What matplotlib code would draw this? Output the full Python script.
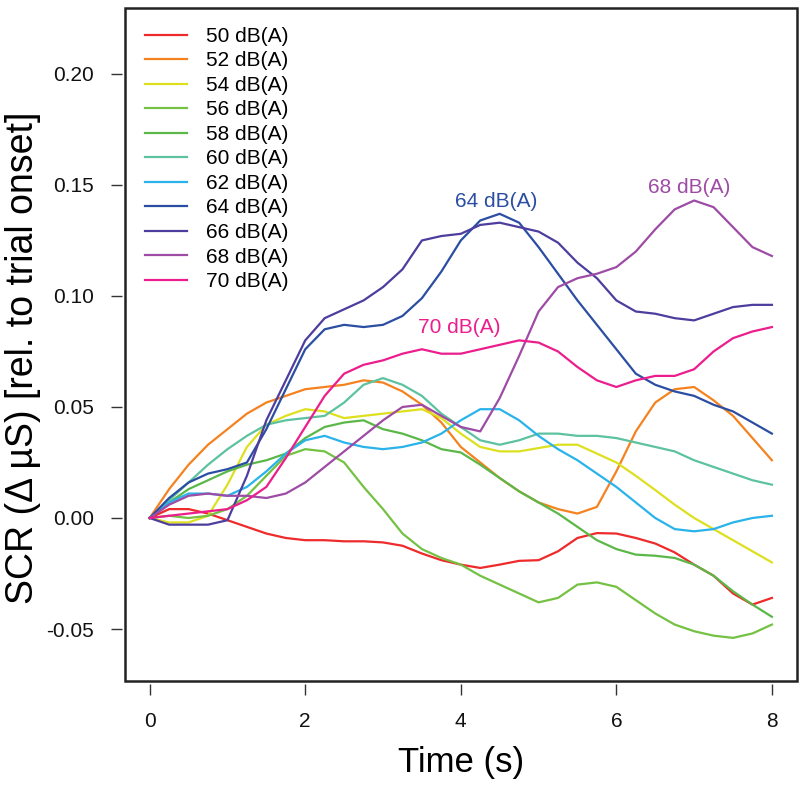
import matplotlib

matplotlib.use("Agg")

import matplotlib.pyplot as plt
from matplotlib.patches import Rectangle
import numpy as np

plt.rcParams["font.family"] = ["Liberation Sans", "DejaVu Sans"]

# time grid (s), 0.25 s steps
TIME = np.linspace(0, 8, 33)

LEVELS = ["50 dB(A)", "52 dB(A)", "54 dB(A)", "56 dB(A)", "58 dB(A)", "60 dB(A)",
          "62 dB(A)", "64 dB(A)", "66 dB(A)", "68 dB(A)", "70 dB(A)"]
COLORS = ["#EE2A2A", "#F5821F", "#DDE01E", "#74C143", "#5BB848", "#5CC2A0",
          "#29B3EA", "#2B4EA2", "#4E3D9E", "#9E4BA5", "#EC1D8C"]

scr_50 = [0, 0.004, 0.004, 0.002, -0.001, -0.004, -0.007, -0.009, -0.010, -0.010, -0.0105,
          -0.0105, -0.011, -0.0125, -0.016, -0.019, -0.021, -0.0225, -0.021, -0.0193, -0.019,
          -0.015, -0.009, -0.0068, -0.007, -0.009, -0.0115, -0.0155, -0.021, -0.026, -0.034,
          -0.039, -0.036]
scr_52 = [0, 0.013, 0.024, 0.033, 0.040, 0.047, 0.052, 0.055, 0.058, 0.059, 0.060,
          0.062, 0.061, 0.057, 0.051, 0.043, 0.032, 0.025, 0.018, 0.012, 0.007,
          0.004, 0.002, 0.005, 0.021, 0.039, 0.052, 0.058, 0.059, 0.053, 0.046,
          0.036, 0.026]
scr_54 = [0, -0.002, -0.002, 0.001, 0.015, 0.032, 0.042, 0.046, 0.049, 0.048, 0.045,
          0.046, 0.047, 0.048, 0.049, 0.045, 0.038, 0.032, 0.030, 0.030, 0.0315,
          0.033, 0.033, 0.029, 0.025, 0.019, 0.0126, 0.006, 0.000, -0.005, -0.010,
          -0.015, -0.020]
scr_56 = [0, 0.001, 0.000, 0.001, 0.004, 0.010, 0.019, 0.028, 0.031, 0.030, 0.025,
          0.014, 0.004, -0.007, -0.014, -0.018, -0.021, -0.026, -0.030, -0.034, -0.038,
          -0.036, -0.030, -0.029, -0.031, -0.037, -0.043, -0.048, -0.051, -0.053, -0.054,
          -0.052, -0.048]
scr_58 = [0, 0.007, 0.013, 0.017, 0.021, 0.024, 0.026, 0.029, 0.036, 0.041, 0.043,
          0.044, 0.040, 0.038, 0.035, 0.031, 0.0295, 0.024, 0.018, 0.012, 0.007,
          0.002, -0.004, -0.010, -0.014, -0.0165, -0.017, -0.018, -0.021, -0.026, -0.033,
          -0.039, -0.0445]
scr_60 = [0, 0.008, 0.016, 0.024, 0.031, 0.037, 0.042, 0.044, 0.045, 0.046, 0.052,
          0.060, 0.063, 0.060, 0.055, 0.047, 0.041, 0.035, 0.033, 0.035, 0.038,
          0.038, 0.037, 0.037, 0.036, 0.034, 0.032, 0.030, 0.026, 0.023, 0.020,
          0.017, 0.015]
scr_62 = [0, 0.007, 0.011, 0.011, 0.010, 0.014, 0.021, 0.029, 0.035, 0.037, 0.034,
          0.032, 0.031, 0.032, 0.034, 0.038, 0.044, 0.049, 0.049, 0.044, 0.037,
          0.031, 0.026, 0.020, 0.014, 0.007, 0.000, -0.005, -0.006, -0.005, -0.002,
          0.000, 0.001]
scr_64 = [0, 0.009, 0.016, 0.020, 0.022, 0.025, 0.040, 0.058, 0.076, 0.085, 0.087,
          0.086, 0.087, 0.091, 0.099, 0.111, 0.125, 0.134, 0.137, 0.133, 0.122,
          0.110, 0.098, 0.087, 0.076, 0.065, 0.060, 0.057, 0.055, 0.051, 0.048,
          0.043, 0.038]
scr_66 = [0, -0.003, -0.003, -0.003, -0.001, 0.019, 0.044, 0.062, 0.080, 0.090, 0.094,
          0.098, 0.104, 0.112, 0.125, 0.127, 0.128, 0.132, 0.133, 0.131, 0.129,
          0.124, 0.115, 0.108, 0.098, 0.093, 0.092, 0.090, 0.089, 0.092, 0.095,
          0.096, 0.096]
scr_68 = [0, 0.006, 0.010, 0.011, 0.010, 0.010, 0.009, 0.011, 0.016, 0.023, 0.030,
          0.037, 0.044, 0.050, 0.051, 0.046, 0.041, 0.039, 0.054, 0.073, 0.093,
          0.104, 0.108, 0.110, 0.113, 0.120, 0.130, 0.139, 0.143, 0.140, 0.131,
          0.122, 0.118]
scr_70 = [0, 0.001, 0.002, 0.003, 0.004, 0.008, 0.014, 0.027, 0.041, 0.055, 0.065,
          0.069, 0.071, 0.074, 0.076, 0.074, 0.074, 0.076, 0.078, 0.080, 0.079,
          0.075, 0.068, 0.062, 0.059, 0.062, 0.064, 0.064, 0.067, 0.075, 0.081,
          0.084, 0.086]

SERIES = [scr_50, scr_52, scr_54, scr_56, scr_58, scr_60,
          scr_62, scr_64, scr_66, scr_68, scr_70]

# in-plot labels: (level index, x, y)
CURVE_LABELS = [(7, 4.45, 0.1425), (9, 6.94, 0.149), (10, 3.98, 0.086)]

X_TICKS = [0, 2, 4, 6, 8]
Y_TICKS = [-0.05, 0.00, 0.05, 0.10, 0.15, 0.20]


fig = plt.figure(figsize=(8.0, 7.92), dpi=100)
ax = fig.add_axes([0.156, 0.1402, 0.84, 0.8497])

for label, color, values in zip(LEVELS, COLORS, SERIES):
    ax.plot(TIME, values, color=color, lw=1.6, label=label)

for idx, x, y in CURVE_LABELS:
    ax.text(x, y, LEVELS[idx], color=COLORS[idx], fontsize=15, ha="center", va="center")

ax.set_xlim(-0.32, 8.32)
ax.set_ylim(-0.0734, 0.2297)
ax.set_xticks(X_TICKS)
ax.set_xticklabels([str(t) for t in X_TICKS])
ax.set_yticks(Y_TICKS)
ax.set_yticklabels([f"{v:.2f}" for v in Y_TICKS])

# R-like look: frame box, ticks slightly detached from it
for side in ["top", "right", "bottom", "left"]:
    ax.spines[side].set_visible(False)
ax.spines["bottom"].set_position(("outward", 2))
ax.spines["left"].set_position(("outward", 2))
ax.add_patch(Rectangle((0, 0), 1, 1, transform=ax.transAxes, fill=False,
                       lw=1.8, edgecolor="#222222", clip_on=False))
ax.tick_params(axis="both", direction="out", length=8, width=1.0, color="#333333",
               labelsize=15, labelcolor="#111111", pad=12)

ax.set_xlabel("Time (s)", fontsize=25)
ax.set_ylabel("SCR (\u0394 \u00b5S) [rel. to trial onset]", fontsize=27)
ax.xaxis.set_label_coords(0.5, -0.097)
ax.yaxis.set_label_coords(-0.125, 0.48)

ax.legend(loc="upper left", bbox_to_anchor=(0.03, 0.972), frameon=False,
          fontsize=15, handlelength=2.0, handletextpad=0.95, labelspacing=0.265,
          borderaxespad=0, borderpad=0)

fig.savefig("out.png", dpi=100)
